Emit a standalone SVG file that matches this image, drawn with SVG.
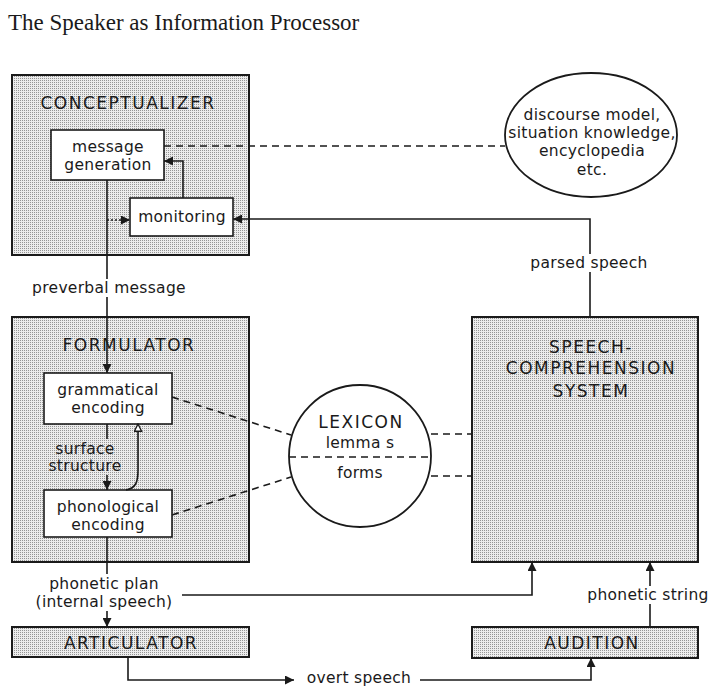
<svg xmlns="http://www.w3.org/2000/svg" width="710" height="686" viewBox="0 0 710 686">
<defs>
<pattern id="stip" width="2" height="2" patternUnits="userSpaceOnUse">
<rect width="2" height="2" fill="#ececec"/>
<rect x="0" y="0" width="1" height="1" fill="#959595"/>
</pattern>
<marker id="ah" viewBox="0 0 10 10" refX="10" refY="5" markerWidth="9" markerHeight="9" markerUnits="userSpaceOnUse" orient="auto">
<path d="M0,0 L10,5 L0,10 z" fill="#1a1a1a"/>
</marker>
<marker id="hollow" viewBox="0 0 10 10" refX="9" refY="5" markerWidth="10" markerHeight="9" markerUnits="userSpaceOnUse" orient="auto">
<path d="M1,1 L9,5 L1,9 z" fill="#fff" stroke="#1a1a1a" stroke-width="1.5"/>
</marker>
</defs>
<style>
.box{fill:url(#stip);stroke:#1a1a1a;stroke-width:2}
.inner{fill:#fff;stroke:#1a1a1a;stroke-width:1.6}
.ell{fill:#fff;stroke:#1a1a1a;stroke-width:1.8}
.t{font-family:"DejaVu Sans","Liberation Sans",sans-serif;font-size:15.5px;letter-spacing:0.3px;fill:#1a1a1a;text-anchor:middle}
.cap{font-family:"DejaVu Sans","Liberation Sans",sans-serif;font-size:17px;letter-spacing:1.5px;fill:#1a1a1a;text-anchor:middle}
.title{font-family:"Liberation Serif","DejaVu Serif",serif;font-size:23px;fill:#1a1a1a}
.ln{fill:none;stroke:#1a1a1a;stroke-width:1.6}
.dash{fill:none;stroke:#1a1a1a;stroke-width:1.6;stroke-dasharray:7,5}
.dot{fill:none;stroke:#1a1a1a;stroke-width:1.6;stroke-dasharray:2,2}
</style>
<rect width="710" height="686" fill="#fff"/>
<text class="title" x="8" y="30">The Speaker as Information Processor</text>

<g id="conceptualizer">
<rect class="box" x="12" y="75" width="237" height="180"/>
<text class="cap" x="128" y="109">CONCEPTUALIZER</text>
</g>
<g id="message-generation">
<rect class="inner" x="51" y="130" width="113" height="50"/>
<text class="t" x="108" y="152">message</text>
<text class="t" x="108" y="170">generation</text>
</g>
<g id="monitoring">
<rect class="inner" x="130" y="198" width="103" height="38"/>
<text class="t" x="182" y="222">monitoring</text>
</g>
<g id="knowledge">
<ellipse class="ell" cx="591" cy="135" rx="86" ry="62"/>
<text class="t" x="592" y="120" font-size="16.5">discourse model,</text>
<text class="t" x="592" y="138" font-size="16.5">situation knowledge,</text>
<text class="t" x="592" y="156" font-size="16.5">encyclopedia</text>
<text class="t" x="592" y="175" font-size="16.5">etc.</text>
</g>
<g id="formulator">
<rect class="box" x="12" y="317" width="237" height="245"/>
<text class="cap" x="129" y="351">FORMULATOR</text>
</g>
<g id="grammatical-encoding">
<rect class="inner" x="44" y="373" width="128" height="51"/>
<text class="t" x="108" y="395">grammatical</text>
<text class="t" x="108" y="413">encoding</text>
</g>
<g id="phonological-encoding">
<rect class="inner" x="44" y="490" width="128" height="47"/>
<text class="t" x="108" y="512">phonological</text>
<text class="t" x="108" y="530">encoding</text>
</g>
<g id="lexicon">
<circle class="ell" cx="360" cy="456" r="71"/>
<line class="dash" x1="289" y1="457" x2="431" y2="457" stroke-dasharray="6,4"/>
<text class="cap" x="361" y="428" font-size="18">LEXICON</text>
<text class="t" x="360" y="448">lemma s</text>
<text class="t" x="360" y="478">forms</text>
</g>
<g id="speech-comprehension">
<rect class="box" x="472" y="317" width="226" height="245"/>
<text class="cap" x="591" y="353">SPEECH-</text>
<text class="cap" x="591" y="374">COMPREHENSION</text>
<text class="cap" x="591" y="397">SYSTEM</text>
</g>
<g id="articulator">
<rect class="box" x="12" y="627" width="237" height="30"/>
<text class="cap" x="131" y="649">ARTICULATOR</text>
</g>
<g id="audition">
<rect class="box" x="472" y="627" width="226" height="31"/>
<text class="cap" x="592" y="649">AUDITION</text>
</g>

<g id="connectors">
<line class="ln" x1="107" y1="180" x2="107" y2="279"/>
<text class="t" x="109" y="293">preverbal message</text>
<line class="ln" x1="107" y1="297" x2="107" y2="373" marker-end="url(#ah)"/>
<line class="dot" x1="107" y1="220" x2="130" y2="220" marker-end="url(#ah)"/>
<polyline class="ln" points="183,198 183,161 164,161" marker-end="url(#ah)"/>
<line class="dash" x1="164" y1="146" x2="505" y2="146"/>
<polyline class="ln" points="590,317 590,272"/>
<text class="t" x="589" y="268">parsed speech</text>
<polyline class="ln" points="590,254 590,219 233,219" marker-end="url(#ah)"/>
<line class="ln" x1="107" y1="424" x2="107" y2="439"/>
<text class="t" x="85" y="454" font-size="13.5">surface</text>
<text class="t" x="85" y="471" font-size="13.5">structure</text>
<line class="ln" x1="107" y1="475" x2="107" y2="490" marker-end="url(#ah)"/>
<path class="ln" d="M126,490 C136,488 138,482 138,470 L138,424" marker-end="url(#hollow)"/>
<line class="dash" x1="172" y1="397" x2="291" y2="435"/>
<line class="dash" x1="172" y1="515" x2="291" y2="477"/>
<line class="dash" x1="431" y1="434" x2="472" y2="434"/>
<line class="dash" x1="431" y1="476" x2="472" y2="476"/>
<line class="ln" x1="107" y1="537" x2="107" y2="574"/>
<text class="t" x="104" y="589" font-size="14.5">phonetic plan</text>
<text class="t" x="104" y="607" font-size="14.5">(internal speech)</text>
<line class="ln" x1="107" y1="611" x2="107" y2="627" marker-end="url(#ah)"/>
<polyline class="ln" points="182,595 532,595 532,562" marker-end="url(#ah)"/>
<polyline class="ln" points="128,657 128,680 294,680" marker-end="url(#ah)"/>
<text class="t" x="359" y="683" font-size="16" letter-spacing="0.5">overt speech</text>
<polyline class="ln" points="420,680 591,680 591,658" marker-end="url(#ah)"/>
<line class="ln" x1="650" y1="627" x2="650" y2="604"/>
<text class="t" x="648" y="600">phonetic string</text>
<line class="ln" x1="650" y1="586" x2="650" y2="562" marker-end="url(#ah)"/>
</g>
</svg>
